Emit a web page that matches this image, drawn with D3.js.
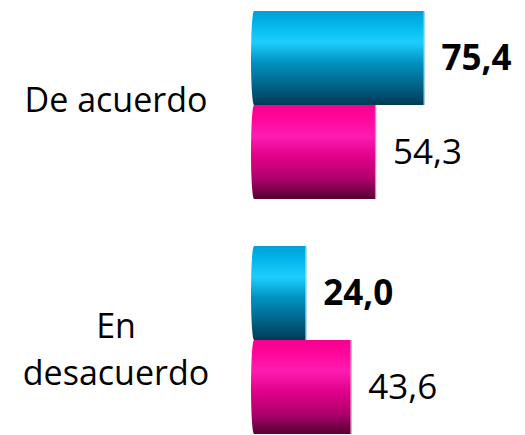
<!DOCTYPE html>
<html>
<head>
<meta charset="utf-8">
<script src="https://cdn.jsdelivr.net/npm/d3@7/dist/d3.min.js"></script>
<style>
  html, body { margin: 0; padding: 0; background: #fff; }
  svg { display: block; }
  text { font-family: "Open Sans", sans-serif; fill: #000; }
</style>
</head>
<body>
<svg id="chart" width="525" height="435"></svg>
<script>
// Categories and the two series of percentages per category
const categories = ["De acuerdo", "En\ndesacuerdo"];
const seriesNames = ["actual", "anterior"];
const seriesActual = [75.4, 24.0];
const seriesAnterior = [54.3, 43.6];
const valueLabels = [["75,4", "54,3"], ["24,0", "43,6"]];

const svg = d3.select("#chart");

const x = d3.scaleLinear().domain([0, 100]).range([251, 481]);
const y = d3.scaleBand().domain(categories).range([11, 434]).paddingInner(0.2).paddingOuter(0);
const ySub = d3.scaleBand().domain(seriesNames).range([0, y.bandwidth()]).padding(0);

// Cylinder-style vertical shading for each series
const defs = svg.append("defs");
const gradients = {
  actual: [
    [0, "#00a0d6"], [0.12, "#00b2e8"], [0.33, "#1ccfff"], [0.55, "#0092c0"],
    [0.78, "#00668c"], [1, "#003a56"]
  ],
  anterior: [
    [0, "#f5008f"], [0.12, "#ff0499"], [0.33, "#ff1cb2"], [0.55, "#e0008a"],
    [0.78, "#b0006c"], [1, "#560032"]
  ]
};
Object.entries(gradients).forEach(([key, stops]) => {
  const g = defs.append("linearGradient").attr("id", "grad-" + key)
    .attr("x1", 0).attr("y1", 0).attr("x2", 0).attr("y2", 1);
  stops.forEach(([o, c]) => g.append("stop").attr("offset", o).attr("stop-color", c));
});

const rows = categories.map((c, i) => ({
  category: c,
  values: [
    { series: "actual", value: seriesActual[i], label: valueLabels[i][0], bold: true },
    { series: "anterior", value: seriesAnterior[i], label: valueLabels[i][1], bold: false }
  ]
}));

const group = svg.selectAll("g.cat").data(rows).join("g")
  .attr("class", "cat")
  .attr("transform", d => `translate(0,${y(d.category)})`);

const bar = group.selectAll("g.bar").data(d => d.values).join("g").attr("class", "bar");

// Bar body with a slightly rounded left end
bar.append("path")
  .attr("fill", d => `url(#grad-${d.series})`)
  .attr("d", d => {
    const x0 = x(0), x1 = x(d.value);
    const y0 = ySub(d.series), h = ySub.bandwidth(), y1 = y0 + h;
    const r = 3;
    return `M${x0 + r},${y0} H${x1} V${y1} H${x0 + r} A${r},${h / 2} 0 0 1 ${x0 + r},${y0} Z`;
  });

// Light rim at the right end of each cylinder
bar.append("rect")
  .attr("x", d => x(d.value) - 1)
  .attr("y", d => ySub(d.series))
  .attr("width", 1.5)
  .attr("height", ySub.bandwidth())
  .attr("fill", d => d.series === "actual" ? "#9fdcef" : "#f39bd0")
  .attr("opacity", 0.8);

// Value labels
bar.append("text")
  .attr("x", d => x(d.value) + 17)
  .attr("y", d => ySub(d.series) + ySub.bandwidth() / 2)
  .attr("dy", "0.33em")
  .attr("font-size", 35)
  .attr("font-weight", d => d.bold ? 700 : 400)
  .text(d => d.label);

// Category labels
group.each(function(d) {
  const lines = d.category.split("\n");
  const mid = y.bandwidth() / 2;
  const t = d3.select(this).append("text")
    .attr("text-anchor", "middle")
    .attr("font-size", 34);
  lines.forEach((ln, i) => {
    t.append("tspan")
      .attr("x", 116)
      .attr("y", mid + (lines.length === 1 ? 7 : -2) + i * 47)
      .text(ln);
  });
});
</script>
</body>
</html>
